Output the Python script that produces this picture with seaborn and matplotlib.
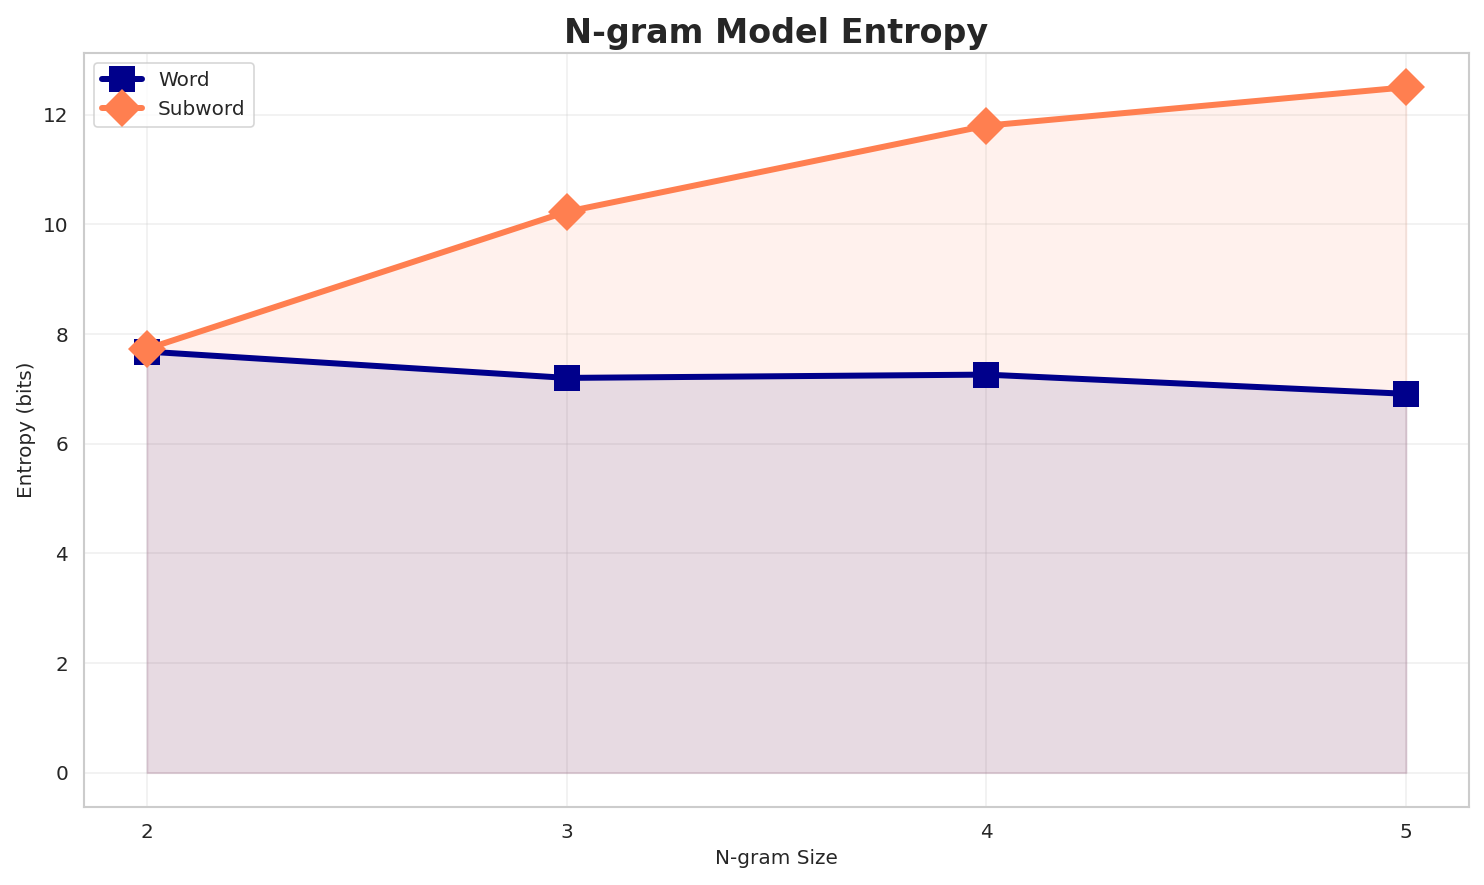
import matplotlib
matplotlib.use("Agg")
import matplotlib.pyplot as plt
import seaborn as sns
import pandas as pd

ngram_sizes = [2, 3, 4, 5]
word_entropy = [7.68, 7.20, 7.26, 6.91]
subword_entropy = [7.73, 10.23, 11.80, 12.50]

sns.set_theme(style="whitegrid")
plt.rcParams['font.family'] = ['DejaVu Sans']

df = pd.DataFrame({
    "N-gram Size": ngram_sizes * 2,
    "Entropy (bits)": word_entropy + subword_entropy,
    "Model": ["Word"] * 4 + ["Subword"] * 4,
})

DPI = 120
W, H = 1484, 885
fig, ax = plt.subplots(figsize=(W / DPI, H / DPI), dpi=DPI)
palette = {"Word": "#00008B", "Subword": "#FF7F50"}
sns.lineplot(data=df, x="N-gram Size", y="Entropy (bits)", hue="Model",
             style="Model", markers={"Word": "s", "Subword": "D"}, dashes=False,
             palette=palette, linewidth=3.6, markersize=16, markeredgewidth=0, ax=ax)
ax.fill_between(ngram_sizes, word_entropy, alpha=0.1, color="#00008B")
ax.fill_between(ngram_sizes, subword_entropy, alpha=0.1, color="#FF7F50")

ax.set_xticks(ngram_sizes)
ax.set_title("N-gram Model Entropy", fontsize=20, fontweight="bold")
ax.set_xlabel("N-gram Size", fontsize=12)
ax.set_ylabel("Entropy (bits)", fontsize=12)
ax.tick_params(labelsize=12)
ax.grid(True, alpha=0.3)
ax.legend(loc="upper left", fontsize=12)
fig.subplots_adjust(left=84 / W, right=1469 / W, top=1 - 53 / H, bottom=1 - 807 / H)
fig.savefig("out.png", dpi=DPI)
